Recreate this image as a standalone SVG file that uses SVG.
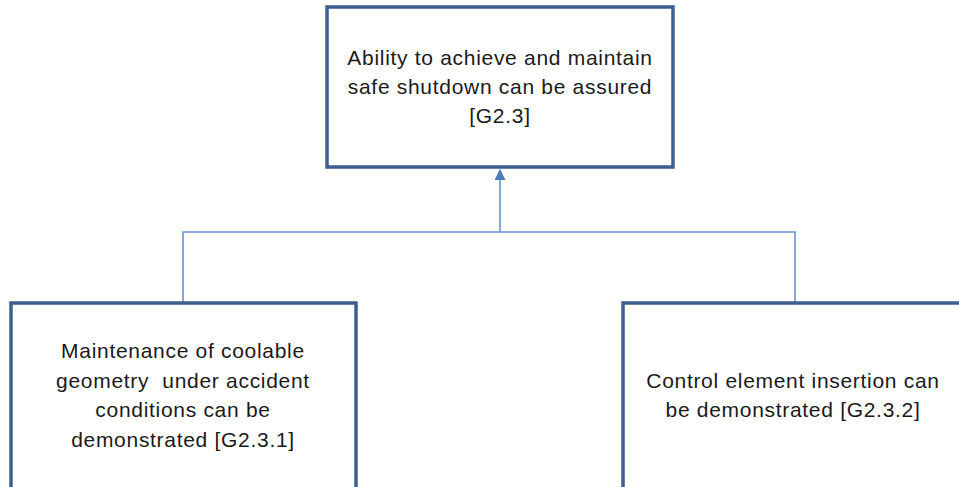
<svg xmlns="http://www.w3.org/2000/svg" width="959" height="487" viewBox="0 0 959 487">
<style>
.box{fill:#ffffff;stroke:#3C5F8D;stroke-width:3.5}
.lbl{font-family:"Liberation Sans",Arial,sans-serif;font-size:21px;letter-spacing:0.7px;fill:#1a1a1a;text-anchor:middle}
.con{fill:none;stroke:#6B93C8;stroke-width:1.6}
</style>
<defs>
<marker id="arr" viewBox="0 0 10 10" refX="9" refY="5" markerWidth="11" markerHeight="11" markerUnits="userSpaceOnUse" orient="auto">
<path d="M0,0 L10,5 L0,10 z" fill="#4F7DB8"/>
</marker>
</defs>
<rect width="959" height="487" fill="#ffffff"/>
<g id="connectors">
<path class="con" d="M500,232 V170" marker-end="url(#arr)"/>
<path class="con" d="M183,303 V232 H795 V302"/>
</g>
<g id="g23">
<rect class="box" x="327" y="7" width="346" height="160"/>
<text class="lbl" x="500" y="65">Ability to achieve and maintain</text>
<text class="lbl" x="500" y="94">safe shutdown can be assured</text>
<text class="lbl" x="500" y="123">[G2.3]</text>
</g>
<g id="g231">
<rect class="box" x="11" y="303" width="345" height="200"/>
<text class="lbl" x="183" y="358">Maintenance of coolable</text>
<text class="lbl" x="183" y="388" xml:space="preserve" style="white-space:pre">geometry  under accident</text>
<text class="lbl" x="183" y="417">conditions can be</text>
<text class="lbl" x="183" y="447">demonstrated [G2.3.1]</text>
</g>
<g id="g232">
<rect class="box" x="623" y="303" width="360" height="200"/>
<text class="lbl" x="793" y="388">Control element insertion can</text>
<text class="lbl" x="793" y="417">be demonstrated [G2.3.2]</text>
</g>
</svg>
